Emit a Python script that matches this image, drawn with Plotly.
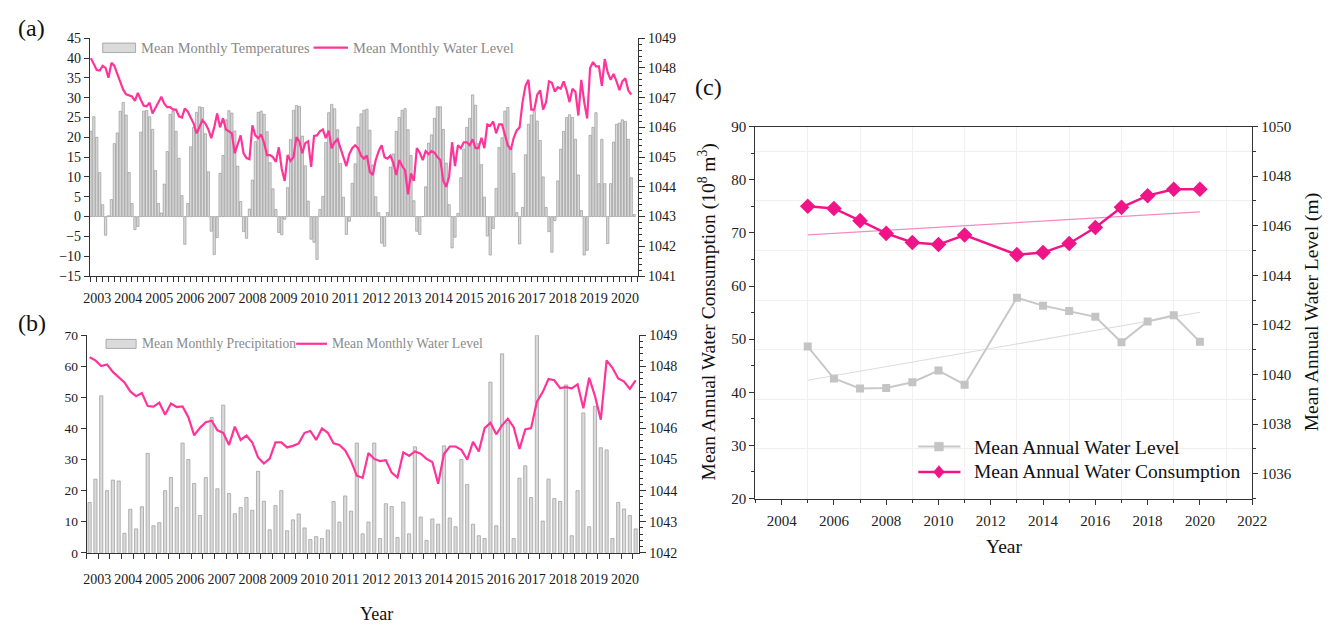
import numpy as np
import plotly.graph_objects as go

# ---------------- data ----------------
# (a) mean monthly temperature (degC), monthly bars
temp = [21.5, 25.2, 20.0, 11.1, 3.0, -4.7, 0.2, 4.3, 18.4, 21.1, 26.6, 28.8, 25.6, 11.1, 3.3, -3.3, -2.5, 21.3,
        26.6, 26.8, 25.2, 22.0, 11.6, 3.3, 0.9, 8.2, 16.4, 25.8, 26.6, 21.5, 14.7, 5.3, -7.0, 3.3, 17.6, 22.5,
        26.3, 27.7, 27.5, 20.9, 11.3, -3.7, -9.6, -5.3, 10.9, 15.4, 24.4, 26.7, 26.1, 21.6, 12.7, 3.8, -3.8, -5.5,
        1.9, 9.2, 18.9, 26.3, 26.6, 25.8, 21.4, 13.6, 7.0, 1.8, -4.0, -4.6, -0.7, 7.3, 19.4, 26.8, 28.0, 27.8,
        20.3, 12.8, 3.9, -5.7, -6.5, -10.8, 1.8, 5.1, 18.7, 26.2, 28.3, 27.2, 21.9, 13.4, 4.9, -4.5, -1.2, 8.4,
        13.3, 22.6, 25.9, 26.8, 27.1, 21.8, 13.0, 5.0, 1.0, -6.7, -7.5, 1.0, 12.5, 15.8, 21.5, 25.0, 26.8, 27.2,
        21.9, 15.4, 4.0, -3.7, -4.5, 0.0, 7.5, 18.5, 20.6, 24.8, 27.7, 27.7, 22.0, 13.5, 3.0, -7.9, -5.2, 0.8,
        9.8, 17.0, 22.5, 24.8, 30.7, 28.1, 18.4, 13.1, 4.9, -4.9, -9.7, -3.0, 7.1, 17.4, 19.9, 26.6, 27.5, 17.4,
        10.9, 1.0, -6.9, 2.3, 15.6, 23.3, 25.6, 26.6, 24.1, 19.2, 10.0, 2.3, -3.8, -9.0, -1.0, 9.0, 17.0, 21.5,
        25.0, 25.7, 25.0, 19.5, 10.5, 1.5, -9.7, -8.5, 20.5, 22.5, 26.2, 8.3, 19.5, 8.3, -6.8, 8.3, 18.8, 23.3,
        23.6, 24.4, 24.0, 19.5, 9.8, 0.5]

# (a) mean monthly water level (m)
level_a = [1048.33, 1048.13, 1047.93, 1047.91, 1048.07, 1048.00, 1047.67, 1048.17, 1048.07, 1047.80, 1047.53,
           1047.27, 1047.11, 1047.07, 1047.04, 1046.89, 1047.16, 1046.93, 1046.73, 1046.71, 1046.83, 1046.47,
           1046.67, 1046.83, 1047.03, 1046.80, 1046.68, 1046.68, 1046.60, 1046.60, 1046.37, 1046.33, 1046.64,
           1046.53, 1046.33, 1046.13, 1045.80, 1046.00, 1046.24, 1046.13, 1045.93, 1045.64, 1046.00, 1046.47,
           1046.00, 1046.31, 1045.93, 1045.87, 1045.80, 1045.13, 1045.40, 1045.73, 1045.13, 1044.97, 1044.93,
           1046.07, 1045.73, 1045.64, 1045.76, 1045.47, 1045.07, 1045.07, 1045.00, 1044.84, 1045.33, 1044.60,
           1044.20, 1045.07, 1044.87, 1045.00, 1045.67, 1045.53, 1045.13, 1045.47, 1045.53, 1044.67, 1045.71,
           1045.73, 1045.87, 1045.93, 1045.64, 1045.89,
           1045.30, 1045.50, 1045.60, 1045.30, 1045.00, 1044.70, 1045.10, 1045.30, 1045.40, 1045.30, 1045.05,
           1044.95, 1045.05, 1044.50, 1044.40, 1044.90, 1045.20, 1045.40, 1045.00, 1044.95, 1045.05, 1044.80,
           1044.40, 1044.90, 1044.70, 1044.55, 1043.75, 1044.45, 1044.20, 1045.30, 1045.15, 1044.90, 1045.20,
           1045.10, 1045.20, 1045.15, 1045.00, 1044.90, 1044.20, 1044.00, 1044.35, 1045.50, 1044.70, 1045.40,
           1045.30, 1045.50, 1045.50, 1045.40, 1045.60, 1045.30, 1045.30, 1045.65, 1045.30, 1046.10, 1046.05,
           1046.20, 1045.80, 1046.10, 1046.10, 1045.70, 1045.40, 1045.25, 1045.65, 1045.90, 1046.00, 1046.85,
           1047.40, 1047.60, 1046.60, 1046.60, 1047.10, 1047.25, 1046.60, 1046.85, 1047.55, 1047.50, 1047.20,
           1047.35, 1047.30, 1047.55, 1047.25, 1046.85, 1047.30, 1047.20, 1046.40, 1047.60, 1046.85, 1046.30,
           1048.00, 1048.20, 1048.05, 1048.05, 1047.40, 1048.30, 1047.85, 1047.60, 1047.80, 1047.55, 1047.25,
           1047.55, 1047.65, 1047.25, 1047.10]

# (b) mean monthly precipitation (mm)
precip = [16.2, 23.7, 50.5, 20.0, 23.4, 23.1, 6.3, 14.0, 7.7, 14.8, 32.0, 8.7, 9.7, 20.0, 24.2, 14.6, 35.3, 30.0,
          22.3, 12.0, 24.2, 43.5, 20.6, 47.5, 19.1, 12.6, 14.6, 17.8, 13.7, 26.2, 16.6, 7.4, 15.2, 20.0, 7.1, 10.6,
          12.5, 8.0, 4.3, 5.2, 4.6, 7.3, 16.5, 9.9, 18.3, 13.4, 35.3, 6.1, 9.9, 35.3, 4.6, 15.8, 14.9, 4.9, 16.3,
          6.1, 34.1, 11.5, 4.0, 10.9, 9.2, 34.4, 11.2, 8.4, 30.0, 22.0, 9.2, 5.5, 4.6, 54.9, 8.7, 64.0, 41.8, 4.6,
          24.0, 28.0, 17.8, 70.0, 10.2, 23.7, 17.5, 16.5, 54.0, 5.5, 20.0, 45.0, 8.4, 47.1, 33.8, 33.1, 4.6, 16.2,
          14.1, 12.0, 7.7]

# (b) mean monthly water level (m)
level_b = [1048.29, 1048.19, 1048.01, 1048.06, 1047.82, 1047.66, 1047.48, 1047.19, 1047.04, 1047.14, 1046.72,
           1046.70, 1046.83, 1046.44, 1046.80, 1046.69, 1046.71, 1046.36, 1045.78, 1046.02, 1046.20, 1046.25,
           1045.94, 1045.86, 1045.47, 1046.06, 1045.63, 1045.77, 1045.55, 1045.07, 1044.87, 1045.03, 1045.55,
           1045.55, 1045.39, 1045.44, 1045.52, 1045.86, 1045.92, 1045.63, 1046.00, 1045.86, 1045.52, 1045.47,
           1045.29, 1044.95, 1044.48, 1044.41, 1045.21, 1045.02, 1044.95, 1044.98, 1044.58, 1044.42, 1045.23,
           1045.12, 1045.26, 1045.19, 1045.02, 1044.92, 1044.22, 1045.18, 1045.42, 1045.42, 1045.31, 1045.00,
           1045.57, 1045.26, 1046.01, 1046.18, 1045.81, 1046.10, 1046.31, 1046.04, 1045.34, 1045.97, 1046.01,
           1046.86, 1047.17, 1047.59, 1047.55, 1047.30, 1047.33, 1047.29, 1047.42, 1046.65, 1047.63, 1047.04,
           1046.28, 1048.19, 1047.95, 1047.61, 1047.51, 1047.27, 1047.55]

year_labels = list(range(2003, 2021))

# (c) annual series
years_c = [2005, 2006, 2007, 2008, 2009, 2010, 2011, 2013, 2014, 2015, 2016, 2017, 2018, 2019, 2020]
consumption = [75.0, 74.6, 72.3, 69.9, 68.2, 67.8, 69.6, 65.9, 66.3, 68.0, 71.0, 74.8, 77.0, 78.2, 78.2]
annual_level = [1041.13, 1039.84, 1039.44, 1039.46, 1039.69, 1040.16, 1039.59, 1043.10, 1042.78, 1042.56,
                1042.33, 1041.30, 1042.14, 1042.39, 1041.32]

# ---------------- layout helpers ----------------
W, H = 1338, 631
def px(x):
    return x / W
def py(y):
    return 1 - y / H

A_START, A_STEP = 2002.797, 0.0946
B_START, B_STEP = 2002.756, 0.1871
xa = A_START + A_STEP * np.arange(len(temp))
xb = B_START + B_STEP * np.arange(len(precip))

SERIF = "Liberation Serif, Times New Roman, serif"
PINK = "#ff3399"
MAG = "#f01488"
AX = "#333333"
BAR_FILL = "#dadada"
BAR_LINE = "#9a9a9a"

fig = go.Figure()

# (a)
fig.add_trace(go.Bar(x=xa, y=temp, width=A_STEP * 0.78, marker=dict(color=BAR_FILL, line=dict(color=BAR_LINE, width=0.7)),
                     name="Mean Monthly Temperatures", xaxis="x", yaxis="y", showlegend=False))
fig.add_trace(go.Scatter(x=xa, y=level_a, mode="lines", line=dict(color=PINK, width=2.2),
                         name="Mean Monthly Water Level", xaxis="x", yaxis="y2", showlegend=False))
# (b)
fig.add_trace(go.Bar(x=xb, y=precip, width=B_STEP * 0.55, marker=dict(color=BAR_FILL, line=dict(color=BAR_LINE, width=0.7)),
                     name="Mean Monthly Precipitation", xaxis="x2", yaxis="y3", showlegend=False))
fig.add_trace(go.Scatter(x=xb, y=level_b, mode="lines", line=dict(color=PINK, width=2.2),
                         name="Mean Monthly Water Level", xaxis="x2", yaxis="y4", showlegend=False))

# (c) trend lines (least squares fits of the annual series)
yc = np.array(years_c, dtype=float)
tx = np.array([yc.min(), yc.max()])
pc = np.polyfit(yc, consumption, 1)
pl = np.polyfit(yc, annual_level, 1)
fig.add_trace(go.Scatter(x=tx, y=np.polyval(pc, tx), mode="lines", line=dict(color="#f48cc2", width=1.3),
                         xaxis="x3", yaxis="y5", showlegend=False, hoverinfo="skip"))
fig.add_trace(go.Scatter(x=tx, y=np.polyval(pl, tx), mode="lines", line=dict(color="#dcdcdc", width=1.1),
                         xaxis="x3", yaxis="y6", showlegend=False, hoverinfo="skip"))
fig.add_trace(go.Scatter(x=years_c, y=consumption, mode="lines+markers", name="Mean Annual Water Consumption",
                         line=dict(color=MAG, width=2.4), marker=dict(symbol="diamond", size=12, color=MAG),
                         xaxis="x3", yaxis="y5", showlegend=False))
fig.add_trace(go.Scatter(x=years_c, y=annual_level, mode="lines+markers", name="Mean Annual Water Level",
                         line=dict(color="#c8c8c8", width=2), marker=dict(symbol="square", size=8, color="#c4c4c4"),
                         xaxis="x3", yaxis="y6", showlegend=False))

tickfont = dict(family=SERIF, size=14, color="#1a1a1a")
tickfont_c = dict(family=SERIF, size=15, color="#222222")

common_line = dict(showline=True, linecolor=AX, linewidth=1, showgrid=False, zeroline=False)

layout = dict(
    width=W, height=H, autosize=False,
    margin=dict(l=0, r=0, t=0, b=0),
    paper_bgcolor="white", plot_bgcolor="rgba(0,0,0,0)",
    font=dict(family=SERIF, color="#222"),
    # (a)
    xaxis=dict(domain=[px(84.3), px(641.7)], range=[2002.766, 2020.427], anchor="y",
               tickmode="array", tickvals=year_labels, ticktext=[str(v) for v in year_labels],
               ticks="outside", ticklen=9, tickcolor="rgba(0,0,0,0)", tickfont=tickfont,
               minor=dict(tickmode="linear", tick0=A_START, dtick=2 * A_STEP, ticks="outside", ticklen=5,
                          tickcolor=AX, tickwidth=1), **common_line),
    yaxis=dict(domain=[py(275), py(31)], range=[-15, 45], anchor="x", tickmode="linear", tick0=-15, dtick=5,
               ticks="outside", ticklen=5, tickcolor=AX, tickfont=tickfont, **common_line),
    yaxis2=dict(overlaying="y", side="right", anchor="x", range=[1041, 1049], tickmode="linear", tick0=1041, dtick=1,
                ticks="outside", ticklen=6, tickcolor=AX, tickfont=tickfont,
                minor=dict(tickmode="linear", tick0=1041, dtick=0.2, ticks="outside", ticklen=3, tickcolor=AX),
                **common_line),
    # (b)
    xaxis2=dict(domain=[px(81), px(643)], range=[2002.661, 2020.465], anchor="y3",
                tickmode="array", tickvals=year_labels, ticktext=[str(v) for v in year_labels],
                ticks="outside", ticklen=13, tickcolor="rgba(0,0,0,0)", tickfont=tickfont,
                minor=dict(tickmode="linear", tick0=B_START - B_STEP / 2, dtick=2 * B_STEP, ticks="outside",
                           ticklen=5, tickcolor=AX, tickwidth=1), **common_line),
    yaxis3=dict(domain=[py(559), py(335.7)], range=[0, 70], anchor="x2", tickmode="linear", tick0=0, dtick=10,
                ticks="outside", ticklen=5, tickcolor=AX, tickfont=dict(family=SERIF, size=13.5, color="#1a1a1a"),
                **common_line),
    yaxis4=dict(overlaying="y3", side="right", anchor="x2", range=[1042, 1049], tickmode="linear", tick0=1042, dtick=1,
                ticks="outside", ticklen=6, tickcolor=AX, tickfont=tickfont,
                minor=dict(tickmode="linear", tick0=1042, dtick=0.2, ticks="outside", ticklen=3, tickcolor=AX),
                **common_line),
    # (c)
    xaxis3=dict(domain=[px(761), px(1266)], range=[2003, 2022], anchor="y5", tickmode="linear", tick0=2004, dtick=2,
                ticks="outside", ticklen=5, tickcolor=AX, tickfont=tickfont_c, ticklabelstandoff=3,
                showline=True, linecolor=AX, linewidth=1.3, mirror=True, showgrid=False, zeroline=False,
                minor=dict(tickmode="linear", tick0=2003, dtick=1, ticks="outside", ticklen=3, tickcolor=AX,
                           showgrid=True, gridcolor="#f0f0f0", gridwidth=1)),
    yaxis5=dict(domain=[py(503.3), py(121.7)], range=[20, 90], anchor="x3", tickmode="linear", tick0=20, dtick=10,
                ticks="outside", ticklen=5, tickcolor=AX, tickfont=tickfont_c,
                showline=True, linecolor=AX, linewidth=1.3, showgrid=False, zeroline=False,
                minor=dict(tickmode="linear", tick0=20, dtick=5, ticks="outside", ticklen=3, tickcolor=AX)),
    yaxis6=dict(overlaying="y5", side="right", anchor="x3", range=[1035, 1050], tickmode="linear", tick0=1036, dtick=2,
                ticks="outside", ticklen=5, tickcolor=AX, tickfont=tickfont_c,
                showline=True, linecolor=AX, linewidth=1.3, showgrid=False, zeroline=False,
                minor=dict(tickmode="linear", tick0=1035, dtick=1, ticks="outside", ticklen=3, tickcolor=AX,
                           showgrid=True, gridcolor="#f0f0f0", gridwidth=1)),
)
fig.update_layout(**layout)

# ---------------- text & manual legends ----------------
ann = []
def text(x, y, s, size, color="#111", xanchor="center", angle=0):
    ann.append(dict(x=px(x), y=py(y), xref="paper", yref="paper", text=s, showarrow=False, textangle=angle,
                    font=dict(family=SERIF, size=size, color=color), xanchor=xanchor, yanchor="middle"))

text(25, 21, "(a)", 24)
text(25, 323, "(b)", 24)
text(713, 81, "(c)", 24)
text(376, 622, "Year", 18)
text(1014, 553, "Year", 19.5)
text(712, 312, "Mean Annual Water Consumption (10<sup>8</sup> m<sup>3</sup>)", 19.5, angle=-90)
text(1327, 312, "Mean Annual Water Level (m)", 19.5, angle=-90)

LEG = "#8a8a8a"
text(134.3, 41, "Mean Monthly Temperatures", 14.5, LEG, "left")
text(350, 41, "Mean Monthly Water Level", 14.5, LEG, "left")
text(135.3, 344.5, "Mean Monthly Precipitation", 13.6, LEG, "left")
text(328.7, 344.5, "Mean Monthly Water Level", 13.6, LEG, "left")
text(981.6, 451, "Mean Annual Water Level", 19.5, "#111", "left")
text(981.6, 476, "Mean Annual Water Consumption", 19.5, "#111", "left")

shapes = []
def rect(x0, y0, x1, y1, fill, line, lw=0.8):
    shapes.append(dict(type="rect", xref="paper", yref="paper", x0=px(x0), x1=px(x1), y0=py(y1), y1=py(y0),
                       fillcolor=fill, line=dict(color=line, width=lw)))
def hline(x0, x1, y, color, w):
    shapes.append(dict(type="line", xref="paper", yref="paper", x0=px(x0), x1=px(x1), y0=py(y), y1=py(y),
                       line=dict(color=color, width=w)))

rect(97.3, 36, 130.7, 45.7, BAR_FILL, BAR_LINE)
hline(311.7, 346.7, 40.7, PINK, 2.2)
rect(100.7, 340, 131.3, 349.3, BAR_FILL, BAR_LINE)
hline(294, 325.3, 344.5, PINK, 2.2)
hline(926.5, 969.4, 450, "#c8c8c8", 2)
rect(943, 445.5, 952, 454.5, "#c4c4c4", "#c4c4c4", 0.5)
hline(926.5, 969.4, 476, MAG, 2.4)
cx, cy = 947.5, 476
path = "M {} {} L {} {} L {} {} L {} {} Z".format(px(cx), py(cy - 6.5), px(cx + 5.5), py(cy), px(cx), py(cy + 6.5),
                                                  px(cx - 5.5), py(cy))
shapes.append(dict(type="path", xref="paper", yref="paper", path=path, fillcolor=MAG, line=dict(color=MAG, width=0.5)))

fig.update_layout(annotations=ann, shapes=shapes)
fig.write_html("out.html")
